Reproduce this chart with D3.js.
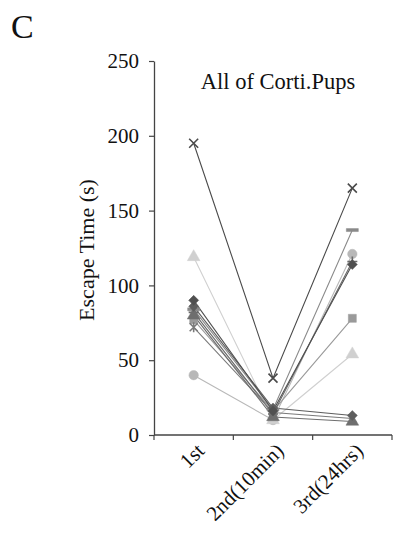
<!DOCTYPE html>
<html>
<head>
<meta charset="utf-8">
<script src="https://cdn.jsdelivr.net/npm/d3@7/dist/d3.min.js"></script>
<style>
  html, body { margin: 0; padding: 0; background: #fff; }
  svg text { font-family: "Liberation Serif", "Times New Roman", serif; fill: #111; }
</style>
</head>
<body>
<svg id="chart" width="396" height="542"></svg>
<script>
// Trial labels along the x axis
const categories = ["1st", "2nd(10min)", "3rd(24hrs)"];
const yTicks = [0, 50, 100, 150, 200, 250];

// Escape time (s) of each pup across the three trials
const pupX        = [195, 38, 165];
const pupTriLight = [119, 10, 54];
const pupDiamond  = [90, 16, 114];
const pupSquare   = [77, 16, 78];
const pupCircle   = [40, 10, 121];
const pupDash     = [84, 17, 137];
const pupStar     = [72, 15, 11];
const pupTriDark  = [80, 12, 9];
const pupDiamond2 = [86, 18, 13];
const pupPlus     = [82, 14, 116];

// Marker shape and grey tone for each pup
const series = [
  { values: pupCircle,   marker: "circle",   color: "#b8b8b8" },
  { values: pupTriLight, marker: "triangle", color: "#d0d0d0" },
  { values: pupSquare,   marker: "square",   color: "#9a9a9a" },
  { values: pupDash,     marker: "dash",     color: "#8a8a8a" },
  { values: pupPlus,     marker: "plus",     color: "#6a6a6a" },
  { values: pupStar,     marker: "star",     color: "#7a7a7a" },
  { values: pupTriDark,  marker: "triangle", color: "#6e6e6e" },
  { values: pupDiamond2, marker: "diamond",  color: "#5e5e5e" },
  { values: pupDiamond,  marker: "diamond",  color: "#505050" },
  { values: pupX,        marker: "x",        color: "#4a4a4a" }
];

const svg = d3.select("#chart");
const plotLeft = 154, plotRight = 392, plotTop = 61, plotBottom = 435;

const x = d3.scaleBand().domain(categories).range([plotLeft, plotRight]).padding(0);
const cx = c => x(c) + x.bandwidth() / 2;
const y = d3.scaleLinear().domain([0, 250]).range([plotBottom, plotTop]);

// Y axis
const yAxis = d3.axisLeft(y).tickValues(yTicks).tickSize(5).tickPadding(10).tickSizeOuter(0);
const gy = svg.append("g").attr("transform", `translate(${plotLeft},0)`).call(yAxis);
gy.select(".domain").attr("stroke", "#444").attr("stroke-width", 1.3);
gy.selectAll(".tick line").attr("stroke", "#444").attr("stroke-width", 1.2);
gy.selectAll(".tick text")
  .style("font-family", '"Liberation Serif", serif')
  .style("font-size", "21px").attr("fill", "#111");

// X axis with ticks at category boundaries
const boundaries = categories.map(c => x(c)).concat([plotRight]);
svg.append("line")
  .attr("x1", plotLeft).attr("x2", plotRight).attr("y1", plotBottom).attr("y2", plotBottom)
  .attr("stroke", "#444").attr("stroke-width", 1.3);
svg.selectAll(".xtick").data(boundaries).join("line")
  .attr("class", "xtick")
  .attr("x1", d => d).attr("x2", d => d)
  .attr("y1", plotBottom).attr("y2", plotBottom + 5)
  .attr("stroke", "#444").attr("stroke-width", 1.2);

svg.selectAll(".xlabel").data(categories).join("text")
  .attr("class", "xlabel")
  .attr("text-anchor", "end")
  .attr("transform", c => `translate(${cx(c) + 12},${plotBottom + 17}) rotate(-45)`)
  .style("font-size", "21px")
  .text(c => c);

// Axis title and panel label
svg.append("text")
  .attr("transform", `translate(94,${(plotTop + plotBottom) / 2 + 2}) rotate(-90)`)
  .attr("text-anchor", "middle")
  .style("font-size", "22px")
  .text("Escape Time (s)");

svg.append("text")
  .attr("x", 11).attr("y", 38)
  .style("font-size", "34px")
  .text("C");

svg.append("text")
  .attr("x", 278).attr("y", 89)
  .attr("text-anchor", "middle")
  .style("font-size", "22.5px")
  .text("All of Corti.Pups");

// Connecting lines
const line = d3.line().x((d, i) => cx(categories[i])).y(d => y(d));
svg.append("g").selectAll("path").data(series).join("path")
  .attr("d", s => line(s.values))
  .attr("fill", "none")
  .attr("stroke", s => s.color)
  .attr("stroke-width", 1.1);

// Markers
function markerPath(kind) {
  switch (kind) {
    case "circle":   return d3.symbol(d3.symbolCircle, 70)();
    case "square":   return d3.symbol(d3.symbolSquare, 64)();
    case "triangle": return d3.symbol(d3.symbolTriangle, 70)();
    case "diamond":  return "M0,-5L5,0L0,5L-5,0Z";
    case "dash":     return "M-6,-1.5H6V1.5H-6Z";
    case "plus":     return "M0,-5V5M-5,0H5";
    case "x":        return "M-4.5,-4.5L4.5,4.5M-4.5,4.5L4.5,-4.5";
    case "star":     return "M-4,-4L4,4M-4,4L4,-4M0,-5V5";
  }
}
const stroked = k => k === "plus" || k === "x" || k === "star";

const pts = [];
series.forEach(s => s.values.forEach((v, i) => pts.push({ s, v, c: categories[i] })));
svg.append("g").selectAll("path").data(pts).join("path")
  .attr("transform", d => `translate(${cx(d.c)},${y(d.v)})`)
  .attr("d", d => markerPath(d.s.marker))
  .attr("fill", d => stroked(d.s.marker) ? "none" : d.s.color)
  .attr("stroke", d => d.s.color)
  .attr("stroke-width", d => stroked(d.s.marker) ? 1.6 : 0.5);
</script>
</body>
</html>
